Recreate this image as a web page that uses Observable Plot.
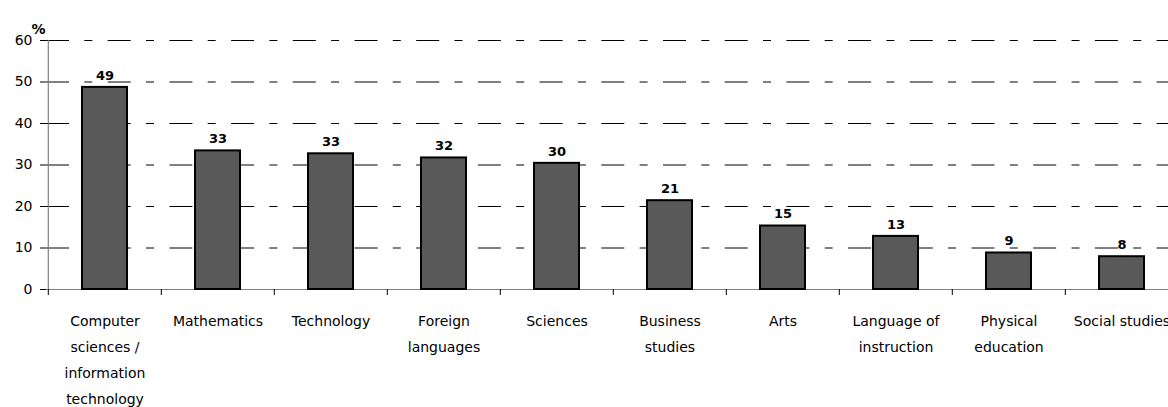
<!DOCTYPE html>
<html>
<head>
<meta charset="utf-8">
<script src="https://cdn.jsdelivr.net/npm/d3@7"></script>
<script src="https://cdn.jsdelivr.net/npm/@observablehq/plot@0.6"></script>
<style>
  html, body { margin: 0; padding: 0; background: #fff; overflow: hidden; }
  #chart { width: 1168px; height: 407px; overflow: hidden; }
  #chart svg { max-width: none !important; }
</style>
</head>
<body>
<div id="chart"></div>
<script>
const categories = [
  "Computer\nsciences /\ninformation\ntechnology",
  "Mathematics",
  "Technology",
  "Foreign\nlanguages",
  "Sciences",
  "Business\nstudies",
  "Arts",
  "Language of\ninstruction",
  "Physical\neducation",
  "Social studies"
];
const values = [48.7, 33.4, 32.7, 31.7, 30.4, 21.4, 15.3, 12.8, 8.8, 7.9];
const valueLabels = ["49", "33", "33", "32", "30", "21", "15", "13", "9", "8"];
const yTicks = [0, 10, 20, 30, 40, 50, 60];
const gridTicks = [10, 20, 30, 40, 50, 60];

const data = categories.map((c, i) => ({cat: c, value: values[i], label: valueLabels[i]}));

const W = 1180, marginLeft = 46;
const step = (W - marginLeft) / categories.length;
const barInset = 34;

const chart = Plot.plot({
  width: W,
  height: 407,
  marginLeft: marginLeft,
  marginRight: 0,
  marginTop: 40,
  marginBottom: 118,
  style: {fontFamily: "DejaVu Sans", fontSize: "14px", color: "#000", background: "#fff", maxWidth: "none"},
  x: {domain: categories, padding: 0},
  y: {domain: [0, 60]},
  marks: [
    Plot.ruleY(gridTicks, {stroke: "#000", strokeWidth: 1, strokeDasharray: "23,15.3,8,15.4"}),
    Plot.ruleY([0], {stroke: "#808080", strokeWidth: 1.2}),
    Plot.ruleX([categories[0]], {x: d => d, y1: 0, y2: 60, dx: -step / 2, stroke: "#808080", strokeWidth: 1.2}),
    Plot.ruleX(categories, {x: d => d, y1: 0, y2: 0, insetBottom: -6, dx: -step / 2, stroke: "#000"}),
    Plot.axisY({ticks: yTicks, tickSize: 6, tickPadding: 8, stroke: "#000", fontSize: 14, label: null}),
    Plot.axisX({tickSize: 0, tickPadding: 18, lineHeight: 1.85, fontSize: 14, label: null}),
    Plot.barY(data, {x: "cat", y: "value", fill: "#595959", stroke: "#000", strokeWidth: 2, insetLeft: barInset, insetRight: barInset}),
    Plot.text(data, {x: "cat", y: "value", text: "label", dy: -12, fontWeight: "bold", fontSize: 13, fill: "#000"}),
    Plot.text(["%"], {frameAnchor: "top-left", textAnchor: "end", dx: -1, dy: -16, fontWeight: "bold", fontSize: 14, fill: "#000"})
  ]
});
document.getElementById("chart").appendChild(chart);
</script>
</body>
</html>
